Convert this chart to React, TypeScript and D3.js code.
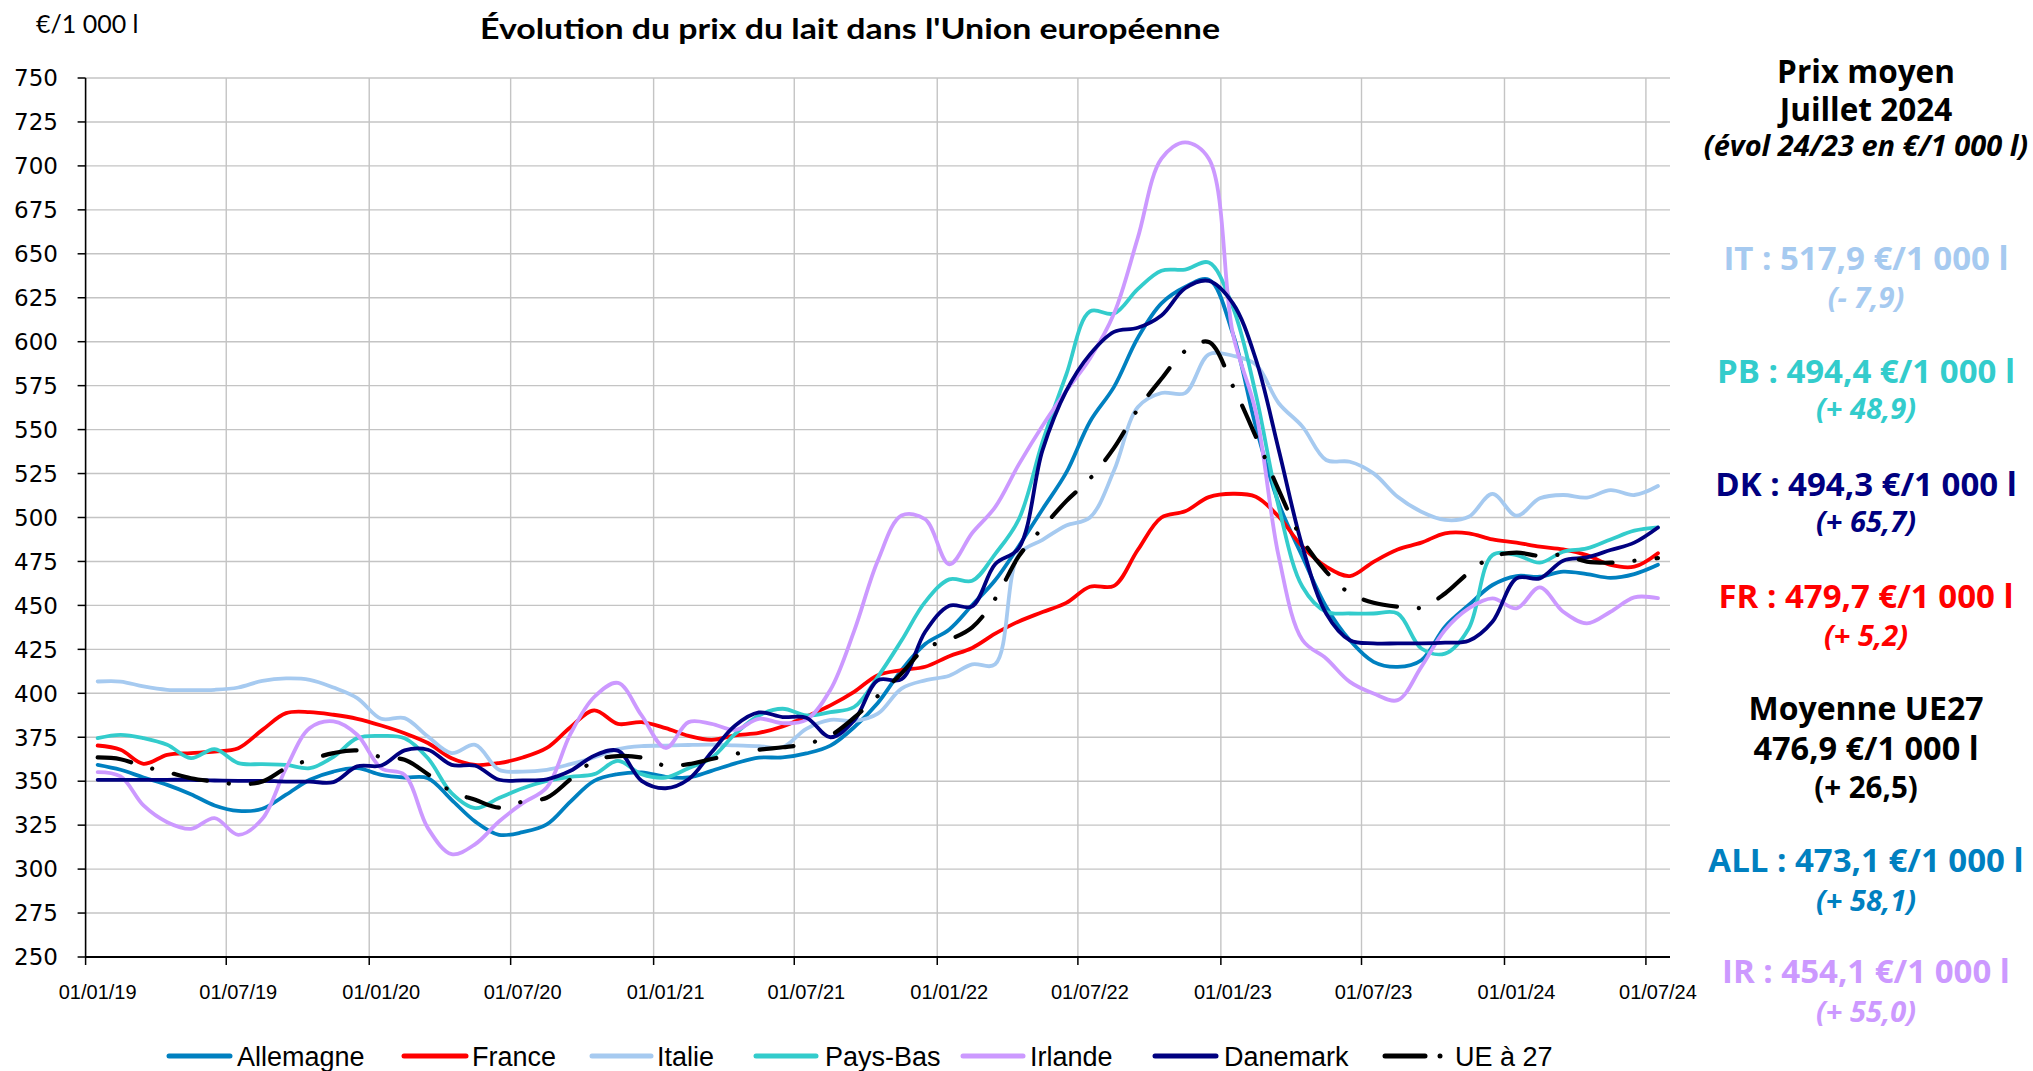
import React from 'react';
import * as d3 from 'd3';

// ---------- DATA ----------
const firstMonth = new Date(2019, 0, 1);
const axisEnd = new Date(2024, 7, 1);

const yTicks = [250, 275, 300, 325, 350, 375, 400, 425, 450, 475, 500, 525, 550, 575, 600, 625, 650, 675, 700, 725, 750];
const xTickLabels = ['01/01/19', '01/07/19', '01/01/20', '01/07/20', '01/01/21', '01/07/21', '01/01/22', '01/07/22', '01/01/23', '01/07/23', '01/01/24', '01/07/24'];

const allemagne = [359.3, 356.5, 352.1, 347.9, 342.6, 336.2, 333.1, 334.3, 342.3, 350.8, 355.5, 357.4, 353.6, 352.1, 351.7, 339.4, 327, 319.5, 321, 325.4, 338.4, 350.2, 354, 355, 352.5, 352.1, 355.9, 360.1, 363.4, 363.5, 365.8, 370.2, 380.7, 394.5, 413.2, 428, 436.3, 450.2, 464.3, 483.8, 504.7, 525.5, 554.5, 574.3, 602.1, 621.8, 631.1, 635.3, 604.4, 551.7, 508, 477.7, 449.3, 430.2, 417.9, 415, 418.8, 437.9, 450.2, 461.6, 466.7, 466.3, 469.2, 467.8, 465.7, 467.8, 473.1];
const france = [370.3, 367.9, 359.9, 365, 366, 366.9, 368.8, 379.2, 388.7, 389.3, 387.8, 385.5, 381.7, 377.3, 371.7, 363.1, 359.3, 360.3, 363.5, 368.9, 380.7, 390.3, 382.6, 383.6, 380.2, 375.8, 373.5, 376.1, 377.5, 381.1, 386.8, 393.1, 400.8, 410.3, 413.2, 415.1, 421.1, 425.8, 433.9, 440.9, 446.2, 451.4, 460.6, 461.1, 481.5, 500, 503.5, 511.6, 513.5, 511.8, 500.4, 483.4, 472, 466.7, 474.8, 481.8, 485.7, 491, 491, 487.5, 485.7, 483.4, 481.9, 478.6, 473, 472, 479.7];
const italie = [406.7, 406.7, 403.9, 402, 401.8, 402, 403.3, 407.1, 408.5, 407.7, 403.3, 397.3, 385.5, 385.9, 375.4, 366, 370.7, 356.5, 355.5, 356.5, 359.7, 363.5, 368.3, 370, 370.2, 370.6, 370.8, 370.4, 370, 369.3, 379.8, 384.9, 384.2, 388.4, 402.7, 407.4, 410, 416.5, 416.5, 479, 487.3, 495.5, 500, 526.7, 562.7, 570.8, 570.8, 592.8, 592, 587, 565, 551.7, 532.7, 531.7, 525.1, 511.8, 503.3, 498.6, 500.4, 513.4, 501, 510.9, 512.8, 511.3, 515.6, 512.8, 517.9];
const paysBas = [374.5, 376.4, 374.5, 370.7, 363.1, 368.2, 360.3, 359.7, 359.3, 357.4, 363.9, 374.5, 375.8, 374.5, 363.1, 343.2, 334.7, 340.4, 346, 350.2, 352.5, 354, 361.6, 354, 352.1, 357.4, 363.2, 376.9, 387.4, 391.2, 387.4, 389.3, 392.2, 409.4, 430, 452, 464.8, 464, 479.2, 499, 543, 581.2, 617.2, 616, 629.9, 640.4, 641, 645, 619.5, 570, 506, 460.6, 446.4, 445.4, 445.4, 445.4, 425.5, 422.6, 436.9, 478.6, 478.6, 474.3, 480.5, 482.4, 487.5, 492.5, 494.4];
const irlande = [355.2, 352.7, 336.2, 326.7, 322.9, 329, 319.5, 328.6, 357.4, 380.2, 384, 376.4, 357.4, 353.6, 323.3, 308.5, 314.2, 327.1, 337.5, 346.4, 376.9, 397.9, 405.9, 387.4, 368.9, 383.6, 382.6, 379.2, 385.5, 383, 384.9, 402, 435.4, 475.4, 501.1, 499, 473.4, 491.2, 505.9, 530.2, 552.2, 572, 590.5, 616, 658.9, 704.1, 713.4, 704.1, 604.4, 560, 477.7, 430.3, 419.8, 406.5, 399.9, 396.1, 415, 436, 448.3, 454, 448.3, 460.3, 446.4, 439.8, 446.4, 454.6, 454.1];
const danemark = [350.8, 350.8, 350.8, 350.8, 350.8, 350.4, 350.2, 350.2, 349.8, 349.8, 349.5, 358.4, 358.9, 367.5, 367.9, 359.3, 358.8, 350.8, 350.5, 351.1, 355.9, 364.5, 367.4, 350.2, 346, 351.1, 366.4, 381.7, 389.1, 386.5, 386.1, 375, 384.5, 407.4, 408, 435, 449.8, 449.5, 473.4, 482.6, 538.3, 572, 592.8, 605.6, 607.9, 614.9, 630.4, 634.6, 621.8, 590, 538.4, 483.4, 445.4, 430.2, 428.4, 428.4, 428.4, 428.8, 429.9, 440.7, 465.4, 465.4, 475.4, 477.3, 481.5, 485.7, 494.3];
const ue27 = [363.5, 362.5, 358.4, 355.2, 351.7, 349.8, 348.3, 349.8, 357.4, 362.2, 366, 367.5, 363.7, 362.2, 354, 344.1, 339.4, 335, 338.4, 340.6, 351.1, 361.6, 364.3, 363.4, 358.8, 359.7, 362.6, 365.5, 367.9, 369.3, 371.2, 376, 386.1, 398.5, 411.3, 425.6, 430.5, 437.5, 453.7, 478, 494.2, 509.3, 522.1, 539.6, 561.5, 578.9, 594.7, 599.8, 574.7, 546, 515.6, 487.2, 469.2, 456.9, 451.5, 449.3, 448.7, 456.8, 468.6, 477.7, 480, 478.1, 478.6, 474.9, 474.3, 475.4, 476.9];

const seriesNames = ['Allemagne', 'France', 'Italie', 'Pays-Bas', 'Irlande', 'Danemark', 'UE à 27'];
const seriesValues = [allemagne, france, italie, paysBas, irlande, danemark, ue27];
const seriesColors = ['#0080C0', '#FF0000', '#A6CAF0', '#33CCCC', '#CC99FF', '#000080', '#000000'];

const panelLines = [
  { main: 'IT : 517,9 €/1 000 l', sub: '(- 7,9)', color: '#A6CAF0' },
  { main: 'PB : 494,4 €/1 000 l', sub: '(+ 48,9)', color: '#33CCCC' },
  { main: 'DK : 494,3 €/1 000 l', sub: '(+ 65,7)', color: '#000080' },
  { main: 'FR :  479,7 €/1 000 l', sub: '(+ 5,2)', color: '#FF0000' },
  { main: 'ALL : 473,1 €/1 000 l', sub: '(+ 58,1)', color: '#0080C0' },
  { main: 'IR : 454,1 €/1 000 l', sub: '(+ 55,0)', color: '#CC99FF' },
];

// ---------- LAYOUT ----------
const W = 2033;
const H = 1071;
const PL = 85.6, PR = 1670, PT = 78, PB = 957;
const panelX = 1866;
const panelMainY = [270, 383, 496, 608, 872, 983];
const panelSubY = [308, 419, 532, 646, 911, 1022];
const legendPos = [
  { x0: 169, x1: 230, tx: 237 },
  { x0: 404, x1: 466, tx: 472 },
  { x0: 592, x1: 651, tx: 657 },
  { x0: 756, x1: 816, tx: 825 },
  { x0: 963, x1: 1023, tx: 1030 },
  { x0: 1155, x1: 1216, tx: 1224 },
  { x0: 1385, x1: 1425, tx: 1455 },
];

export default function App() {
  const x = d3.scaleTime().domain([firstMonth, axisEnd]).range([PL, PR]);
  const y = d3.scaleLinear().domain([250, 750]).range([PB, PT]);
  const months = d3.timeMonth.range(firstMonth, d3.timeMonth.offset(firstMonth, allemagne.length));
  const xMid = (d: Date) => (x(d) + x(d3.timeMonth.offset(d, 1))) / 2;
  const tickDates = d3.timeMonth.every(6)!.range(firstMonth, axisEnd);

  const line = d3
    .line<number>()
    .x((_, i) => xMid(months[i]))
    .y((v) => y(v))
    .curve(d3.curveCatmullRom.alpha(0.5));

  const panelFont = "'Open Sans', 'Noto Sans', sans-serif";

  return (
    <svg
      width={W}
      height={H}
      style={{ position: 'absolute', left: 0, top: 0, background: '#fff', display: 'block' }}
    >
      <rect x={0} y={0} width={W} height={H} fill="#fff" />
      {/* gridlines */}
      {yTicks.map((t) => (
        <line key={'gy' + t} x1={PL} x2={PR} y1={y(t)} y2={y(t)} stroke="#C4C4C4" strokeWidth={1.4} />
      ))}
      {tickDates.slice(1).map((d, i) => (
        <line key={'gx' + i} x1={x(d)} x2={x(d)} y1={PT} y2={PB} stroke="#C4C4C4" strokeWidth={1.4} />
      ))}
      {/* axes */}
      <line x1={PL} x2={PL} y1={PT} y2={PB} stroke="#000" strokeWidth={1.6} />
      <line x1={PL} x2={PR} y1={PB} y2={PB} stroke="#000" strokeWidth={2} />
      {yTicks.map((t) => (
        <g key={'yt' + t}>
          <line x1={PL - 8} x2={PL} y1={y(t)} y2={y(t)} stroke="#000" strokeWidth={1.5} />
          <text
            x={58}
            y={y(t)}
            dy="0.36em"
            textAnchor="end"
            fontFamily="'DejaVu Sans', sans-serif"
            fontSize={23}
            fill="#000"
          >
            {t}
          </text>
        </g>
      ))}
      {tickDates.map((d, i) => (
        <g key={'xt' + i}>
          <line x1={x(d)} x2={x(d)} y1={PB} y2={PB + 8} stroke="#000" strokeWidth={1.5} />
          <text
            x={xMid(d)}
            y={999}
            textAnchor="middle"
            fontFamily="'Liberation Sans', Arial, sans-serif"
            fontSize={20}
            fill="#000"
          >
            {xTickLabels[i]}
          </text>
        </g>
      ))}
      {/* series */}
      {seriesValues.map((vals, si) => (
        <path
          key={'s' + si}
          d={line(vals) || ''}
          fill="none"
          stroke={seriesColors[si]}
          strokeWidth={si === 6 ? 4.2 : 3.8}
          strokeLinejoin="round"
          strokeLinecap="round"
          strokeDasharray={si === 6 ? '34 22 0.1 22' : undefined}
        />
      ))}
      {/* title */}
      <text
        x={480}
        y={39}
        textLength={740}
        lengthAdjust="spacingAndGlyphs"
        fontFamily="Lato, 'Open Sans', sans-serif"
        fontWeight={700}
        fontSize={28.5}
        fill="#000"
      >
        Évolution du prix du lait dans l'Union européenne
      </text>
      <text x={36} y={33} fontFamily="Lato, sans-serif" fontSize={25} fill="#000">
        €/1 000 l
      </text>
      {/* legend */}
      {seriesNames.map((n, i) => (
        <g key={'lg' + i}>
          <line
            x1={legendPos[i].x0}
            x2={legendPos[i].x1}
            y1={1056}
            y2={1056}
            stroke={seriesColors[i]}
            strokeWidth={5}
            strokeLinecap="round"
          />
          {i === 6 && <circle cx={1440} cy={1056} r={2.5} fill="#000" />}
          <text
            x={legendPos[i].tx}
            y={1066}
            fontFamily="'Liberation Sans', Arial, sans-serif"
            fontSize={27}
            fill="#000"
          >
            {n}
          </text>
        </g>
      ))}
      {/* right panel */}
      <g fontFamily={panelFont} fontWeight={700} textAnchor="middle">
        <text x={panelX} y={83} fontSize={31.5} fill="#000">Prix moyen</text>
        <text x={panelX} y={121} fontSize={31.5} fill="#000">Juillet 2024</text>
        <text x={panelX} y={156} fontSize={29} fontStyle="italic" fill="#000">(évol 24/23 en €/1 000 l)</text>
        {panelLines.map((p, i) => (
          <g key={'pl' + i}>
            <text x={panelX} y={panelMainY[i]} fontSize={33} fill={p.color}>{p.main}</text>
            <text x={panelX} y={panelSubY[i]} fontSize={29} fontStyle="italic" fill={p.color}>{p.sub}</text>
          </g>
        ))}
        <text x={panelX} y={720} fontSize={32} fill="#000">Moyenne UE27</text>
        <text x={panelX} y={760} fontSize={32.5} fill="#000">476,9 €/1 000 l</text>
        <text x={panelX} y={798} fontSize={29.5} fill="#000">(+ 26,5)</text>
      </g>
    </svg>
  );
}
